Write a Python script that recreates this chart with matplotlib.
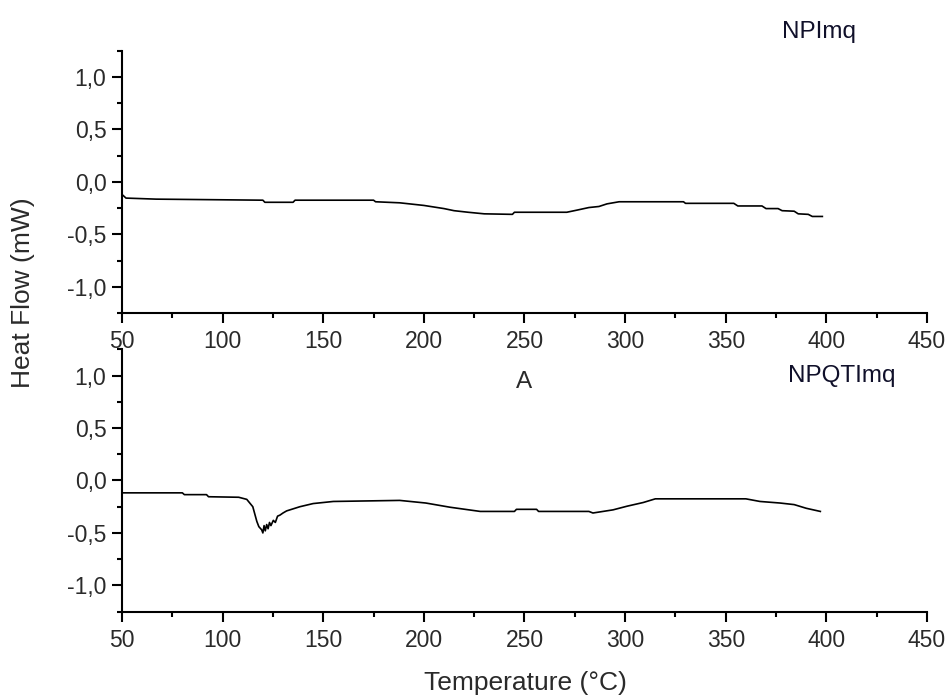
import matplotlib
matplotlib.use("Agg")
import matplotlib.pyplot as plt
from matplotlib.ticker import MultipleLocator, FuncFormatter

plt.rcParams['font.family'] = ['Liberation Sans', 'DejaVu Sans']

# DSC curve of NPImq
temp_npimq = [50, 52, 67, 120, 121, 135, 136, 175, 176, 188, 200, 210, 215,
              222, 230, 244, 245, 271, 276, 282, 287, 291, 297, 329, 330, 331,
              354, 356, 368, 370, 376, 378, 384, 386, 391, 393, 398]
flow_npimq = [-0.12, -0.155, -0.165, -0.175, -0.195, -0.195, -0.175, -0.175, -0.19,
              -0.20, -0.225, -0.255, -0.275, -0.29, -0.305, -0.31, -0.29, -0.29,
              -0.27, -0.245, -0.235, -0.21, -0.19, -0.19, -0.205, -0.205, -0.205,
              -0.23, -0.23, -0.255, -0.255, -0.275, -0.28, -0.305, -0.31, -0.33, -0.33]

# DSC curve of NPQTImq
temp_npqtimq = [50, 80, 81, 92, 93, 108, 112, 115, 117, 118, 119.4, 120, 120.6,
                121.2, 121.9, 122.6, 123.3, 124, 125.2, 126.2, 127.3, 128.5, 130,
                131.8, 135.1, 138.4, 145, 155, 188, 201, 213, 228, 245, 246, 256,
                257, 282, 284, 294, 301, 309, 315, 360, 367, 377, 384, 390, 397]
flow_npqtimq = [-0.118, -0.118, -0.135, -0.135, -0.155, -0.16, -0.18, -0.25, -0.39,
                -0.44, -0.47, -0.5, -0.43, -0.48, -0.42, -0.46, -0.40, -0.43, -0.38,
                -0.40, -0.34, -0.33, -0.31, -0.29, -0.27, -0.25, -0.22, -0.20, -0.19,
                -0.215, -0.255, -0.295, -0.295, -0.275, -0.275, -0.295, -0.295, -0.31,
                -0.28, -0.245, -0.21, -0.175, -0.175, -0.20, -0.215, -0.23, -0.265, -0.295]

x_major = 50
x_minor = 25
y_major = 0.5
y_minor = 0.25

fig = plt.figure(figsize=(9.5, 6.98), dpi=100)
ax_top = fig.add_axes([0.1284, 0.5516, 0.8474, 0.3758])
ax_bot = fig.add_axes([0.1284, 0.1237, 0.8474, 0.3759])

comma = FuncFormatter(lambda v, pos: f"{v:.1f}".replace('.', ','))

for ax, t, f in [(ax_top, temp_npimq, flow_npimq), (ax_bot, temp_npqtimq, flow_npqtimq)]:
    ax.plot(t, f, color='black', lw=1.2)
    ax.set_xlim(50, 450)
    ax.set_ylim(-1.25, 1.25)
    ax.spines['top'].set_visible(False)
    ax.spines['right'].set_visible(False)
    for s in ['left', 'bottom']:
        ax.spines[s].set_linewidth(1.5)
    ax.xaxis.set_major_locator(MultipleLocator(x_major))
    ax.xaxis.set_minor_locator(MultipleLocator(x_minor))
    ax.yaxis.set_major_locator(MultipleLocator(y_major))
    ax.yaxis.set_minor_locator(MultipleLocator(y_minor))
    ax.yaxis.set_major_formatter(comma)
    ax.tick_params(which='major', direction='out', length=7.2, width=1.5,
                   labelsize=16.5, labelcolor='#2a2a2a')
    ax.tick_params(which='minor', direction='out', length=3.6, width=1.5)
    ax.tick_params(axis='x', pad=5)
    ax.tick_params(axis='y', pad=4)
    ax.patch.set_alpha(0)

ax_top.text(378, 1.43, 'NPImq', fontsize=17.5, color='#10102a', va='center',
            clip_on=False)
ax_bot.text(381, 1.0, 'NPQTImq', fontsize=17.5, color='#10102a', va='center')
ax_bot.text(250, 0.94, 'A', fontsize=17.5, color='#2a2a2a', ha='center', va='center')

fig.text(0.024, 0.58, 'Heat Flow (mW)', rotation=90, fontsize=19,
         color='#2a2a2a', ha='center', va='center')
fig.text(0.5526, 0.021, 'Temperature (°C)', fontsize=19, color='#2a2a2a',
         ha='center', va='center')

fig.savefig('out.png', dpi=100)
